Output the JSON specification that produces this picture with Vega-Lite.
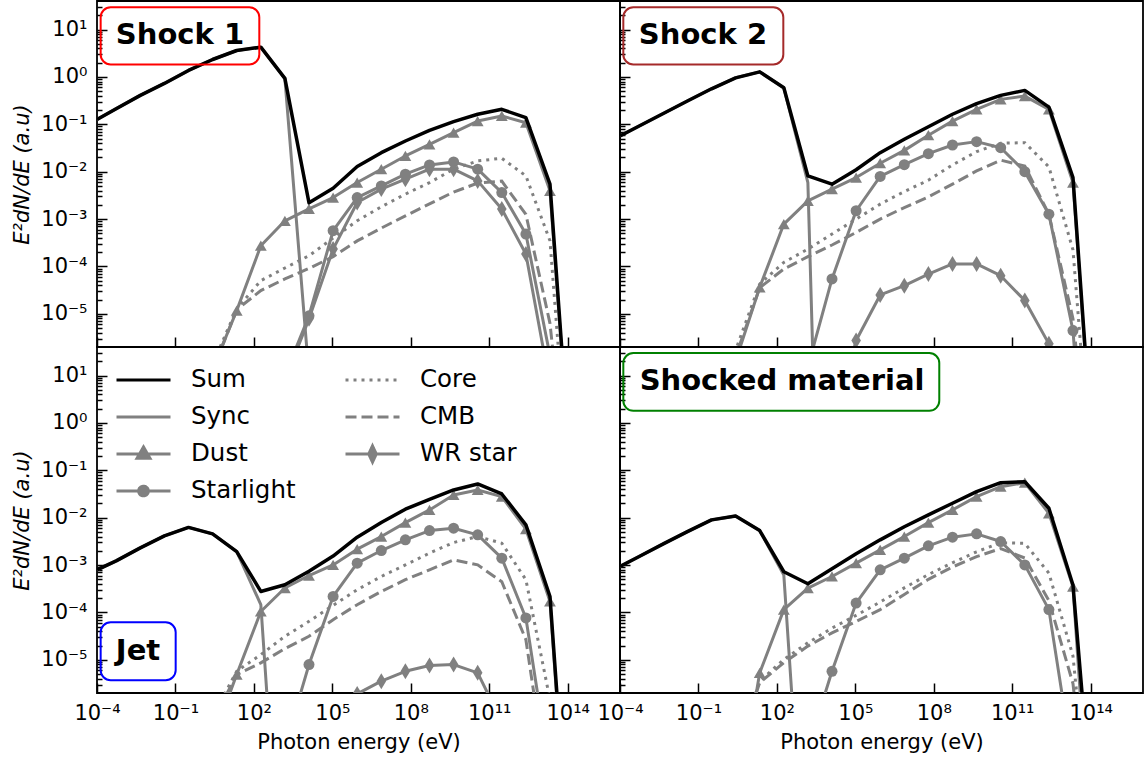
{
  "$schema": "https://vega.github.io/schema/vega-lite/v6.json",
  "padding": {"left": 10, "top": 0, "right": 2, "bottom": 2},
  "background": "white",
  "datasets": {
    "sed": [
      {"p":"S1","e":1e-4,"Sum":0.127,"Sync":0.127},
      {"p":"S1","e":5.42e-4,"Sum":0.214,"Sync":0.214},
      {"p":"S1","e":4.53e-3,"Sum":0.408,"Sync":0.408},
      {"p":"S1","e":3.78e-2,"Sum":0.729,"Sync":0.729},
      {"p":"S1","e":0.316,"Sum":1.37,"Sync":1.37,"Dust":1e-9,"Core":1e-9,"CMB":1e-9},
      {"p":"S1","e":2.63,"Sum":2.33,"Sync":2.33,"Dust":6.76e-7,"Core":8.71e-7,"CMB":6.31e-7},
      {"p":"S1","e":22,"Sum":3.61,"Sync":3.61,"Dust":1.17e-5,"Core":1.27e-5,"CMB":1.23e-5},
      {"p":"S1","e":184,"Sum":4.24,"Sync":4.24,"Dust":2.74e-4,"Starlight":1e-10,"Core":5.02e-5,"CMB":3.10e-5},
      {"p":"S1","e":1530,"Sum":0.929,"Sync":0.923,"Dust":9.2e-4,"Starlight":5.0e-7,"WR":3.98e-7,"Core":9.29e-5,"CMB":5.46e-5},
      {"p":"S1","e":1.28e4,"Sum":2.2e-3,"Sync":5.0e-7,"Dust":1.65e-3,"Starlight":9.12e-6,"WR":7.85e-6,"Core":1.69e-4,"CMB":9.12e-5},
      {"p":"S1","e":1.07e5,"Sum":4.47e-3,"Sync":1e-15,"Dust":2.85e-3,"Starlight":5.68e-4,"WR":2.33e-4,"Core":3.98e-4,"CMB":1.61e-4},
      {"p":"S1","e":8.91e5,"Sum":1.29e-2,"Dust":5.9e-3,"Starlight":2.85e-3,"WR":2.24e-3,"Core":9.2e-4,"CMB":3.47e-4},
      {"p":"S1","e":7.45e6,"Sum":2.52e-2,"Dust":1.13e-2,"Starlight":5.02e-3,"WR":4.29e-3,"Core":1.82e-3,"CMB":6.46e-4},
      {"p":"S1","e":6.21e7,"Sum":4.45e-2,"Dust":2.15e-2,"Starlight":8.87e-3,"WR":6.95e-3,"Core":3.36e-3,"CMB":1.17e-3},
      {"p":"S1","e":5.19e8,"Sum":7.48e-2,"Dust":3.79e-2,"Starlight":1.39e-2,"WR":1.13e-2,"Core":5.9e-3,"CMB":2.09e-3},
      {"p":"S1","e":4.33e9,"Sum":0.114,"Dust":6.65e-2,"Starlight":1.61e-2,"WR":1.13e-2,"Core":1.13e-2,"CMB":3.72e-3},
      {"p":"S1","e":3.61e10,"Sum":0.163,"Dust":0.117,"Starlight":1.13e-2,"WR":6.4e-3,"Core":1.69e-2,"CMB":5.75e-3},
      {"p":"S1","e":3.02e11,"Sum":0.207,"Dust":0.150,"Starlight":3.63e-3,"WR":1.63e-3,"Core":1.92e-2,"CMB":6.31e-3},
      {"p":"S1","e":2.52e12,"Sum":0.138,"Dust":0.108,"Starlight":4.83e-4,"WR":1.83e-4,"Core":8.17e-3,"CMB":1.26e-3},
      {"p":"S1","e":2.10e13,"Sum":5.46e-3,"Dust":3.94e-3,"Starlight":1.32e-6,"WR":3.16e-7,"Core":3.49e-4,"CMB":6.31e-6},
      {"p":"S1","e":1.76e14,"Sum":4.5e-10,"Dust":4e-10,"Starlight":1e-12,"WR":1e-12,"Core":1e-10,"CMB":1e-10},

      {"p":"S2","e":1e-4,"Sum":5.68e-2,"Sync":5.68e-2},
      {"p":"S2","e":5.42e-4,"Sum":9.2e-2,"Sync":9.2e-2},
      {"p":"S2","e":4.53e-3,"Sum":0.169,"Sync":0.169},
      {"p":"S2","e":3.78e-2,"Sum":0.310,"Sync":0.310},
      {"p":"S2","e":0.316,"Sum":0.562,"Sync":0.562,"Dust":1e-9,"Core":1e-9,"CMB":1e-9},
      {"p":"S2","e":2.63,"Sum":0.957,"Sync":0.957,"Dust":1e-6,"Core":1.70e-6,"CMB":1.26e-6},
      {"p":"S2","e":22,"Sum":1.28,"Sync":1.28,"Dust":3.63e-5,"Core":4.27e-5,"CMB":3.55e-5},
      {"p":"S2","e":184,"Sum":0.590,"Sync":0.590,"Dust":7.85e-4,"Starlight":1e-10,"Core":1.22e-4,"CMB":8.85e-5},
      {"p":"S2","e":1530,"Sum":8.13e-3,"Sync":5.89e-3,"Dust":2.43e-3,"Starlight":7.59e-7,"Core":2.33e-4,"CMB":1.61e-4},
      {"p":"S2","e":1.28e4,"Sum":5.46e-3,"Sync":1e-20,"Dust":4.29e-3,"Starlight":5.46e-5,"WR":3.16e-8,"Core":4.83e-4,"CMB":2.84e-4},
      {"p":"S2","e":1.07e5,"Sum":1.10e-2,"Dust":7.52e-3,"Starlight":1.50e-3,"WR":2.75e-6,"Core":1.0e-3,"CMB":5.22e-4},
      {"p":"S2","e":8.91e5,"Sum":2.52e-2,"Dust":1.51e-2,"Starlight":7.94e-3,"WR":2.51e-5,"Core":2.07e-3,"CMB":1.0e-3},
      {"p":"S2","e":7.45e6,"Sum":4.83e-2,"Dust":2.82e-2,"Starlight":1.41e-2,"WR":3.94e-5,"Core":3.81e-3,"CMB":1.75e-3},
      {"p":"S2","e":6.21e7,"Sum":8.91e-2,"Dust":5.89e-2,"Starlight":2.40e-2,"WR":6.92e-5,"Core":6.62e-3,"CMB":2.94e-3},
      {"p":"S2","e":5.19e8,"Sum":0.163,"Dust":0.117,"Starlight":3.66e-2,"WR":1.13e-4,"Core":1.39e-2,"CMB":5.46e-3},
      {"p":"S2","e":4.33e9,"Sum":0.272,"Dust":0.207,"Starlight":4.31e-2,"WR":1.13e-4,"Core":2.65e-2,"CMB":1.04e-2},
      {"p":"S2","e":3.61e10,"Sum":0.408,"Dust":0.336,"Starlight":3.21e-2,"WR":6.4e-5,"Core":3.98e-2,"CMB":1.75e-2},
      {"p":"S2","e":3.02e11,"Sum":0.520,"Dust":0.394,"Starlight":1.0e-2,"WR":1.91e-5,"Core":4.10e-2,"CMB":1.32e-2},
      {"p":"S2","e":2.52e12,"Sum":0.231,"Dust":0.207,"Starlight":1.27e-3,"WR":2.33e-6,"Core":1.26e-2,"CMB":1.26e-3},
      {"p":"S2","e":2.10e13,"Sum":7.52e-3,"Dust":5.9e-3,"Starlight":4.45e-6,"WR":1e-8,"Core":2.24e-4,"CMB":7.94e-6},
      {"p":"S2","e":1.76e14,"Sum":5e-10,"Dust":4e-10,"Starlight":1e-12,"Core":1e-10,"CMB":1e-10},

      {"p":"Jet","e":1e-4,"Sum":7.96e-4,"Sync":7.96e-4},
      {"p":"Jet","e":5.42e-4,"Sum":1.23e-3,"Sync":1.23e-3},
      {"p":"Jet","e":4.53e-3,"Sum":2.31e-3,"Sync":2.31e-3},
      {"p":"Jet","e":3.78e-2,"Sum":4.14e-3,"Sync":4.14e-3},
      {"p":"Jet","e":0.316,"Sum":6.25e-3,"Sync":6.25e-3,"Dust":1e-10,"Core":1e-9,"CMB":1e-9},
      {"p":"Jet","e":2.63,"Sum":4.56e-3,"Sync":4.56e-3,"Dust":2.04e-7,"Core":6.31e-7,"CMB":5.01e-7},
      {"p":"Jet","e":22,"Sum":1.93e-3,"Sync":1.93e-3,"Dust":4.9e-6,"Core":5.75e-6,"CMB":4.9e-6},
      {"p":"Jet","e":184,"Sum":2.78e-4,"Sync":1.46e-4,"Dust":1.05e-4,"Starlight":1e-11,"Core":1.29e-5,"CMB":8.65e-6},
      {"p":"Jet","e":1530,"Sum":3.85e-4,"Sync":5e-12,"Dust":3.28e-4,"Starlight":1.48e-7,"Core":3.14e-5,"CMB":1.73e-5},
      {"p":"Jet","e":1.28e4,"Sum":7.41e-4,"Dust":6.03e-4,"Starlight":7.96e-6,"WR":1e-8,"Core":6.5e-5,"CMB":3.14e-5},
      {"p":"Jet","e":1.07e5,"Sum":1.55e-3,"Dust":1.01e-3,"Starlight":2.18e-4,"WR":6.31e-7,"Core":1.41e-4,"CMB":7.05e-5},
      {"p":"Jet","e":8.91e5,"Sum":3.89e-3,"Dust":2.17e-3,"Starlight":1.10e-3,"WR":1.91e-6,"Core":3.02e-4,"CMB":1.46e-4},
      {"p":"Jet","e":7.45e6,"Sum":7.89e-3,"Dust":4.0e-3,"Starlight":2.03e-3,"WR":3.55e-6,"Core":5.75e-4,"CMB":2.78e-4},
      {"p":"Jet","e":6.21e7,"Sum":1.51e-2,"Dust":7.89e-3,"Starlight":3.41e-3,"WR":5.75e-6,"Core":1.01e-3,"CMB":4.91e-4},
      {"p":"Jet","e":5.19e8,"Sum":2.45e-2,"Dust":1.46e-2,"Starlight":5.35e-3,"WR":7.59e-6,"Core":1.79e-3,"CMB":7.96e-4},
      {"p":"Jet","e":4.33e9,"Sum":3.85e-2,"Dust":3.02e-2,"Starlight":6.01e-3,"WR":7.94e-6,"Core":2.99e-3,"CMB":1.29e-3},
      {"p":"Jet","e":3.61e10,"Sum":5.15e-2,"Dust":3.85e-2,"Starlight":4.35e-3,"WR":5.32e-6,"Core":4.0e-3,"CMB":1.01e-3},
      {"p":"Jet","e":3.02e11,"Sum":3.17e-2,"Dust":2.78e-2,"Starlight":1.40e-3,"WR":4.9e-7,"Core":2.9e-3,"CMB":4.45e-4},
      {"p":"Jet","e":2.52e12,"Sum":7.05e-3,"Dust":5.73e-3,"Starlight":7.66e-5,"WR":1e-8,"Core":4.91e-4,"CMB":2.67e-5},
      {"p":"Jet","e":2.10e13,"Sum":2.18e-4,"Dust":1.71e-4,"Starlight":3.98e-8,"Core":1.45e-6,"CMB":1e-8},
      {"p":"Jet","e":1.76e14,"Sum":1.6e-11,"Dust":1e-11,"Starlight":1e-12,"Core":1e-10,"CMB":1e-12},

      {"p":"SM","e":1e-4,"Sum":9.33e-4,"Sync":9.33e-4},
      {"p":"SM","e":5.42e-4,"Sum":1.52e-3,"Sync":1.52e-3},
      {"p":"SM","e":4.53e-3,"Sum":2.81e-3,"Sync":2.81e-3},
      {"p":"SM","e":3.78e-2,"Sum":5.09e-3,"Sync":5.09e-3},
      {"p":"SM","e":0.316,"Sum":8.99e-3,"Sync":8.99e-3},
      {"p":"SM","e":2.63,"Sum":1.09e-2,"Sync":1.09e-2,"Dust":5e-9,"Core":1e-7,"CMB":1e-7},
      {"p":"SM","e":22,"Sum":5.35e-3,"Sync":5.35e-3,"Dust":5.32e-6,"Core":3.55e-6,"CMB":3.31e-6},
      {"p":"SM","e":184,"Sum":7.24e-4,"Sync":6.17e-4,"Dust":1.15e-4,"Starlight":1e-11,"Core":1.02e-5,"CMB":8.71e-6},
      {"p":"SM","e":1530,"Sum":4.04e-4,"Sync":1.6e-11,"Dust":3.28e-4,"Starlight":1.35e-7,"Core":2.29e-5,"CMB":1.95e-5},
      {"p":"SM","e":1.28e4,"Sum":8.36e-4,"Dust":5.75e-4,"Starlight":5.75e-6,"Core":4.68e-5,"CMB":3.72e-5},
      {"p":"SM","e":1.07e5,"Sum":1.73e-3,"Dust":1.10e-3,"Starlight":1.58e-4,"Core":8.71e-5,"CMB":6.46e-5},
      {"p":"SM","e":8.91e5,"Sum":3.41e-3,"Dust":2.10e-3,"Starlight":7.96e-4,"Core":1.66e-4,"CMB":1.15e-4},
      {"p":"SM","e":7.45e6,"Sum":6.46e-3,"Dust":4.0e-3,"Starlight":1.40e-3,"Core":3.31e-4,"CMB":2.40e-4},
      {"p":"SM","e":6.21e7,"Sum":1.15e-2,"Dust":7.89e-3,"Starlight":2.55e-3,"Core":6.31e-4,"CMB":5.01e-4},
      {"p":"SM","e":5.19e8,"Sum":2.02e-2,"Dust":1.46e-2,"Starlight":3.88e-3,"Core":1.12e-3,"CMB":9.12e-4},
      {"p":"SM","e":4.33e9,"Sum":3.54e-2,"Dust":2.78e-2,"Starlight":4.56e-3,"Core":1.91e-3,"CMB":1.51e-3},
      {"p":"SM","e":3.61e10,"Sum":5.48e-2,"Dust":4.52e-2,"Starlight":3.14e-3,"Core":2.95e-3,"CMB":2.24e-3},
      {"p":"SM","e":3.02e11,"Sum":5.75e-2,"Dust":5.48e-2,"Starlight":1.01e-3,"Core":2.88e-3,"CMB":1.41e-3},
      {"p":"SM","e":2.52e12,"Sum":1.58e-2,"Dust":1.24e-2,"Starlight":1.15e-4,"Core":6.76e-4,"CMB":1.78e-4},
      {"p":"SM","e":2.10e13,"Sum":3.8e-4,"Dust":3.5e-4,"Starlight":6.31e-8,"Core":1.2e-5,"CMB":3.16e-6},
      {"p":"SM","e":1.76e14,"Sum":3.2e-10,"Dust":1e-11,"Starlight":1e-12,"Core":1e-10,"CMB":1e-10}
    ]
  },
  "columns": 2,
  "spacing": 0,
  "bounds": "flush",
  "resolve": {"scale": {"color": "independent", "stroke": "independent", "shape": "independent", "strokeDash": "independent"}},
  "concat": [
    {
      "width": 523, "height": 346,
      "layer": [
        {
          "data": {"name": "sed"},
          "transform": [
            {"filter": "datum.p == 'S1'"},
            {"fold": ["Sum", "Sync", "Dust", "Starlight", "WR", "Core", "CMB"], "as": ["s", "v"]},
            {"filter": "isValid(datum.v) && datum.v > 0"}
          ],
          "encoding": {
            "x": {"field": "e", "type": "quantitative", "scale": {"type": "log", "domain": [1e-4, 1e16], "nice": false},
                  "axis": {"values": [1e-4, 0.1, 100, 1e5, 1e8, 1e11, 1e14], "tickSize": -10, "labels": false, "title": null}},
            "y": {"field": "v", "type": "quantitative", "scale": {"type": "log", "domain": [2e-6, 40], "nice": false},
                  "axis": {"values": [3e-6,4e-6,5e-6,6e-6,7e-6,8e-6,9e-6,1e-5,2e-5,3e-5,4e-5,5e-5,6e-5,7e-5,8e-5,9e-5,1e-4,2e-4,3e-4,4e-4,5e-4,6e-4,7e-4,8e-4,9e-4,1e-3,2e-3,3e-3,4e-3,5e-3,6e-3,7e-3,8e-3,9e-3,0.01,0.02,0.03,0.04,0.05,0.06,0.07,0.08,0.09,0.1,0.2,0.3,0.4,0.5,0.6,0.7,0.8,0.9,1,2,3,4,5,6,7,8,9,10,20,30],
                           "tickSize": {"condition": {"test": "abs(log(datum.value)/LN10 - round(log(datum.value)/LN10)) < 0.01", "value": -10}, "value": -5},
                           "labelFontSize": {"condition": {"test": "abs(log(datum.value)/LN10 - round(log(datum.value)/LN10)) < 0.01", "value": 21}, "value": 0},
                           "labelExpr": "abs(log(datum.value)/LN10 - round(log(datum.value)/LN10)) < 0.01 ? '10' + (round(log(datum.value)/LN10) < 0 ? '⁻' : '') + ['⁰','¹','²','³','⁴','⁵','⁶','⁷','⁸','⁹'][abs(round(log(datum.value)/LN10)) % 10] : ''",
                           "labelPadding": 20, "title": "E²dN/dE (a.u)", "titleFontStyle": "italic", "titlePadding": 8}}
          },
          "layer": [
            {"transform": [{"filter": "indexof(['Sync','Dust','Starlight','WR'], datum.s) >= 0"}], "mark": {"type": "line", "clip": true, "color": "#808080", "strokeWidth": 3, "strokeJoin": "round"}, "encoding": {"detail": {"field": "s"}}},
            {"transform": [{"filter": "datum.s == 'Core'"}], "mark": {"type": "line", "clip": true, "color": "#808080", "strokeWidth": 3, "strokeDash": [3, 5]}},
            {"transform": [{"filter": "datum.s == 'CMB'"}], "mark": {"type": "line", "clip": true, "color": "#808080", "strokeWidth": 3, "strokeDash": [11, 5]}},
            {"transform": [{"filter": "datum.s == 'Dust'"}], "mark": {"type": "point", "clip": true, "shape": "triangle-up", "filled": true, "size": 140, "color": "#808080", "opacity": 1}},
            {"transform": [{"filter": "datum.s == 'Starlight'"}], "mark": {"type": "point", "clip": true, "shape": "circle", "filled": true, "size": 121, "color": "#808080", "opacity": 1}},
            {"transform": [{"filter": "datum.s == 'WR'"}], "mark": {"type": "point", "clip": true, "shape": "M0,-1L0.6,0L0,1L-0.6,0Z", "filled": true, "size": 256, "color": "#808080", "opacity": 1}},
            {"transform": [{"filter": "datum.s == 'Sum'"}], "mark": {"type": "line", "clip": true, "color": "#000000", "strokeWidth": 3.5, "strokeJoin": "round"}}
          ]
        },
        {"data": {"values": [{}]}, "mark": {"type": "rect", "fill": "white", "fillOpacity": 0, "stroke": "#ff0000", "strokeWidth": 2, "cornerRadius": 10},
         "encoding": {"x": {"datum": 1.38e-4, "type": "quantitative"}, "x2": {"datum": 161}, "y": {"datum": 29.4, "type": "quantitative"}, "y2": {"datum": 1.83}}},
        {"data": {"values": [{}]}, "mark": {"type": "text", "text": "Shock 1", "font": "DejaVu Sans", "fontWeight": "bold", "fontSize": 29, "align": "center", "baseline": "middle", "color": "black"},
         "encoding": {"x": {"datum": 0.149, "type": "quantitative"}, "y": {"datum": 7.59, "type": "quantitative"}}}
      ]
    },
    {
      "width": 523, "height": 346,
      "layer": [
        {
          "data": {"name": "sed"},
          "transform": [
            {"filter": "datum.p == 'S2'"},
            {"fold": ["Sum", "Sync", "Dust", "Starlight", "WR", "Core", "CMB"], "as": ["s", "v"]},
            {"filter": "isValid(datum.v) && datum.v > 0"}
          ],
          "encoding": {
            "x": {"field": "e", "type": "quantitative", "scale": {"type": "log", "domain": [1e-4, 1e16], "nice": false},
                  "axis": {"values": [1e-4, 0.1, 100, 1e5, 1e8, 1e11, 1e14], "tickSize": -10, "labels": false, "title": null}},
            "y": {"field": "v", "type": "quantitative", "scale": {"type": "log", "domain": [2e-6, 40], "nice": false},
                  "axis": {"values": [3e-6,4e-6,5e-6,6e-6,7e-6,8e-6,9e-6,1e-5,2e-5,3e-5,4e-5,5e-5,6e-5,7e-5,8e-5,9e-5,1e-4,2e-4,3e-4,4e-4,5e-4,6e-4,7e-4,8e-4,9e-4,1e-3,2e-3,3e-3,4e-3,5e-3,6e-3,7e-3,8e-3,9e-3,0.01,0.02,0.03,0.04,0.05,0.06,0.07,0.08,0.09,0.1,0.2,0.3,0.4,0.5,0.6,0.7,0.8,0.9,1,2,3,4,5,6,7,8,9,10,20,30],
                           "tickSize": {"condition": {"test": "abs(log(datum.value)/LN10 - round(log(datum.value)/LN10)) < 0.01", "value": -10}, "value": -5},
                           "labels": false, "title": null}}
          },
          "layer": [
            {"transform": [{"filter": "indexof(['Sync','Dust','Starlight','WR'], datum.s) >= 0"}], "mark": {"type": "line", "clip": true, "color": "#808080", "strokeWidth": 3, "strokeJoin": "round"}, "encoding": {"detail": {"field": "s"}}},
            {"transform": [{"filter": "datum.s == 'Core'"}], "mark": {"type": "line", "clip": true, "color": "#808080", "strokeWidth": 3, "strokeDash": [3, 5]}},
            {"transform": [{"filter": "datum.s == 'CMB'"}], "mark": {"type": "line", "clip": true, "color": "#808080", "strokeWidth": 3, "strokeDash": [11, 5]}},
            {"transform": [{"filter": "datum.s == 'Dust'"}], "mark": {"type": "point", "clip": true, "shape": "triangle-up", "filled": true, "size": 140, "color": "#808080", "opacity": 1}},
            {"transform": [{"filter": "datum.s == 'Starlight'"}], "mark": {"type": "point", "clip": true, "shape": "circle", "filled": true, "size": 121, "color": "#808080", "opacity": 1}},
            {"transform": [{"filter": "datum.s == 'WR'"}], "mark": {"type": "point", "clip": true, "shape": "M0,-1L0.6,0L0,1L-0.6,0Z", "filled": true, "size": 256, "color": "#808080", "opacity": 1}},
            {"transform": [{"filter": "datum.s == 'Sum'"}], "mark": {"type": "line", "clip": true, "color": "#000000", "strokeWidth": 3.5, "strokeJoin": "round"}}
          ]
        },
        {"data": {"values": [{}]}, "mark": {"type": "rect", "fill": "white", "fillOpacity": 0, "stroke": "#a52a2a", "strokeWidth": 2, "cornerRadius": 10},
         "encoding": {"x": {"datum": 1.34e-4, "type": "quantitative"}, "x2": {"datum": 176}, "y": {"datum": 29.4, "type": "quantitative"}, "y2": {"datum": 1.83}}},
        {"data": {"values": [{}]}, "mark": {"type": "text", "text": "Shock 2", "font": "DejaVu Sans", "fontWeight": "bold", "fontSize": 29, "align": "center", "baseline": "middle", "color": "black"},
         "encoding": {"x": {"datum": 0.149, "type": "quantitative"}, "y": {"datum": 7.59, "type": "quantitative"}}}
      ]
    },
    {
      "width": 523, "height": 346,
      "layer": [
        {
          "data": {"name": "sed"},
          "transform": [
            {"filter": "datum.p == 'Jet'"},
            {"fold": ["Sum", "Sync", "Dust", "Starlight", "WR", "Core", "CMB"], "as": ["s", "v"]},
            {"filter": "isValid(datum.v) && datum.v > 0"}
          ],
          "encoding": {
            "x": {"field": "e", "type": "quantitative", "scale": {"type": "log", "domain": [1e-4, 1e16], "nice": false},
                  "axis": {"values": [1e-4, 0.1, 100, 1e5, 1e8, 1e11, 1e14], "tickSize": -10, "labelPadding": 19,
                           "labelExpr": "'10' + (round(log(datum.value)/LN10) < 0 ? '⁻' : '') + (abs(round(log(datum.value)/LN10)) >= 10 ? '¹' : '') + ['⁰','¹','²','³','⁴','⁵','⁶','⁷','⁸','⁹'][abs(round(log(datum.value)/LN10)) % 10]",
                           "title": "Photon energy (eV)", "titlePadding": 8}},
            "y": {"field": "v", "type": "quantitative", "scale": {"type": "log", "domain": [2e-6, 40], "nice": false},
                  "axis": {"values": [3e-6,4e-6,5e-6,6e-6,7e-6,8e-6,9e-6,1e-5,2e-5,3e-5,4e-5,5e-5,6e-5,7e-5,8e-5,9e-5,1e-4,2e-4,3e-4,4e-4,5e-4,6e-4,7e-4,8e-4,9e-4,1e-3,2e-3,3e-3,4e-3,5e-3,6e-3,7e-3,8e-3,9e-3,0.01,0.02,0.03,0.04,0.05,0.06,0.07,0.08,0.09,0.1,0.2,0.3,0.4,0.5,0.6,0.7,0.8,0.9,1,2,3,4,5,6,7,8,9,10,20,30],
                           "tickSize": {"condition": {"test": "abs(log(datum.value)/LN10 - round(log(datum.value)/LN10)) < 0.01", "value": -10}, "value": -5},
                           "labelFontSize": {"condition": {"test": "abs(log(datum.value)/LN10 - round(log(datum.value)/LN10)) < 0.01", "value": 21}, "value": 0},
                           "labelExpr": "abs(log(datum.value)/LN10 - round(log(datum.value)/LN10)) < 0.01 ? '10' + (round(log(datum.value)/LN10) < 0 ? '⁻' : '') + ['⁰','¹','²','³','⁴','⁵','⁶','⁷','⁸','⁹'][abs(round(log(datum.value)/LN10)) % 10] : ''",
                           "labelPadding": 20, "title": "E²dN/dE (a.u)", "titleFontStyle": "italic", "titlePadding": 8}}
          },
          "layer": [
            {"transform": [{"filter": "indexof(['Sync','Dust','Starlight','WR'], datum.s) >= 0"}], "mark": {"type": "line", "clip": true, "color": "#808080", "strokeWidth": 3, "strokeJoin": "round"}, "encoding": {"detail": {"field": "s"}}},
            {"transform": [{"filter": "datum.s == 'Core'"}], "mark": {"type": "line", "clip": true, "color": "#808080", "strokeWidth": 3, "strokeDash": [3, 5]}},
            {"transform": [{"filter": "datum.s == 'CMB'"}], "mark": {"type": "line", "clip": true, "color": "#808080", "strokeWidth": 3, "strokeDash": [11, 5]}},
            {"transform": [{"filter": "datum.s == 'Dust'"}], "mark": {"type": "point", "clip": true, "shape": "triangle-up", "filled": true, "size": 140, "color": "#808080", "opacity": 1}},
            {"transform": [{"filter": "datum.s == 'Starlight'"}], "mark": {"type": "point", "clip": true, "shape": "circle", "filled": true, "size": 121, "color": "#808080", "opacity": 1}},
            {"transform": [{"filter": "datum.s == 'WR'"}], "mark": {"type": "point", "clip": true, "shape": "M0,-1L0.6,0L0,1L-0.6,0Z", "filled": true, "size": 256, "color": "#808080", "opacity": 1}},
            {"transform": [{"filter": "datum.s == 'Sum'"}], "mark": {"type": "line", "clip": true, "color": "#000000", "strokeWidth": 3.5, "strokeJoin": "round"}}
          ]
        },
        {"data": {"values": [{}]}, "mark": {"type": "rect", "fill": "white", "fillOpacity": 0, "stroke": "#0000ff", "strokeWidth": 2, "cornerRadius": 10},
         "encoding": {"x": {"datum": 1.38e-4, "type": "quantitative"}, "x2": {"datum": 0.102}, "y": {"datum": 6.19e-5, "type": "quantitative"}, "y2": {"datum": 3.72e-6}}},
        {"data": {"values": [{}]}, "mark": {"type": "text", "text": "Jet", "font": "DejaVu Sans", "fontWeight": "bold", "fontSize": 29, "align": "center", "baseline": "middle", "color": "black"},
         "encoding": {"x": {"datum": 3.70e-3, "type": "quantitative"}, "y": {"datum": 1.53e-5, "type": "quantitative"}}},
        {"data": {"values": [{"s": "Sum"}, {"s": "Sync"}, {"s": "Dust"}, {"s": "Starlight"}, {"s": "Core"}, {"s": "CMB"}, {"s": "WR star"}]},
         "mark": {"type": "point", "filled": true, "opacity": 0},
         "encoding": {
           "x": {"datum": 1, "type": "quantitative"},
           "y": {"datum": 1, "type": "quantitative"},
           "shape": {"field": "s", "type": "nominal",
                     "scale": {"domain": ["Sum", "Sync", "Dust", "Starlight", "Core", "CMB", "WR star"],
                               "range": ["M-1,0L1,0", "M-1,0L1,0",
                                         "M-1,0L1,0M0,-0.26L0.24,0.16L-0.24,0.16Z",
                                         "M-1,0L1,0M0.18,0A0.18,0.18,0,1,1,-0.18,0A0.18,0.18,0,1,1,0.18,0Z",
                                         "M-1,0L1,0", "M-1,0L1,0",
                                         "M-1,0L1,0M0,-0.3L0.14,0L0,0.3L-0.14,0Z"]},
                     "legend": {"title": null, "orient": "top-left", "offset": 18, "columns": 2, "clipHeight": 30, "symbolSize": 2916, "symbolStrokeWidth": 3, "symbolOpacity": 1, "labelFontSize": 24.5, "labelOffset": 19, "rowPadding": 7, "columnPadding": 48, "padding": 0}},
           "color": {"field": "s", "type": "nominal",
                     "scale": {"domain": ["Sum", "Sync", "Dust", "Starlight", "Core", "CMB", "WR star"],
                               "range": ["#000000", "#808080", "#808080", "#808080", "#808080", "#808080", "#808080"]},
                     "legend": {"title": null, "orient": "top-left", "offset": 18, "columns": 2, "clipHeight": 30, "symbolSize": 2916, "symbolStrokeWidth": 3, "symbolOpacity": 1, "labelFontSize": 24.5, "labelOffset": 19, "rowPadding": 7, "columnPadding": 48, "padding": 0}},
           "stroke": {"field": "s", "type": "nominal",
                     "scale": {"domain": ["Sum", "Sync", "Dust", "Starlight", "Core", "CMB", "WR star"],
                               "range": ["#000000", "#808080", "#808080", "#808080", "#808080", "#808080", "#808080"]},
                     "legend": {"title": null, "orient": "top-left", "offset": 18, "columns": 2, "clipHeight": 30, "symbolSize": 2916, "symbolStrokeWidth": 3, "symbolOpacity": 1, "labelFontSize": 24.5, "labelOffset": 19, "rowPadding": 7, "columnPadding": 48, "padding": 0}},
           "strokeDash": {"field": "s", "type": "nominal",
                     "scale": {"domain": ["Sum", "Sync", "Dust", "Starlight", "Core", "CMB", "WR star"],
                               "range": [[1, 0], [1, 0], [1, 0], [1, 0], [3, 5], [11, 5], [1, 0]]},
                     "legend": {"title": null, "orient": "top-left", "offset": 18, "columns": 2, "clipHeight": 30, "symbolSize": 2916, "symbolStrokeWidth": 3, "symbolOpacity": 1, "labelFontSize": 24.5, "labelOffset": 19, "rowPadding": 7, "columnPadding": 48, "padding": 0}}
         }}
      ]
    },
    {
      "width": 523, "height": 346,
      "layer": [
        {
          "data": {"name": "sed"},
          "transform": [
            {"filter": "datum.p == 'SM'"},
            {"fold": ["Sum", "Sync", "Dust", "Starlight", "WR", "Core", "CMB"], "as": ["s", "v"]},
            {"filter": "isValid(datum.v) && datum.v > 0"}
          ],
          "encoding": {
            "x": {"field": "e", "type": "quantitative", "scale": {"type": "log", "domain": [1e-4, 1e16], "nice": false},
                  "axis": {"values": [1e-4, 0.1, 100, 1e5, 1e8, 1e11, 1e14], "tickSize": -10, "labelPadding": 19,
                           "labelExpr": "'10' + (round(log(datum.value)/LN10) < 0 ? '⁻' : '') + (abs(round(log(datum.value)/LN10)) >= 10 ? '¹' : '') + ['⁰','¹','²','³','⁴','⁵','⁶','⁷','⁸','⁹'][abs(round(log(datum.value)/LN10)) % 10]",
                           "title": "Photon energy (eV)", "titlePadding": 8}},
            "y": {"field": "v", "type": "quantitative", "scale": {"type": "log", "domain": [2e-6, 40], "nice": false},
                  "axis": {"values": [3e-6,4e-6,5e-6,6e-6,7e-6,8e-6,9e-6,1e-5,2e-5,3e-5,4e-5,5e-5,6e-5,7e-5,8e-5,9e-5,1e-4,2e-4,3e-4,4e-4,5e-4,6e-4,7e-4,8e-4,9e-4,1e-3,2e-3,3e-3,4e-3,5e-3,6e-3,7e-3,8e-3,9e-3,0.01,0.02,0.03,0.04,0.05,0.06,0.07,0.08,0.09,0.1,0.2,0.3,0.4,0.5,0.6,0.7,0.8,0.9,1,2,3,4,5,6,7,8,9,10,20,30],
                           "tickSize": {"condition": {"test": "abs(log(datum.value)/LN10 - round(log(datum.value)/LN10)) < 0.01", "value": -10}, "value": -5},
                           "labels": false, "title": null}}
          },
          "layer": [
            {"transform": [{"filter": "indexof(['Sync','Dust','Starlight','WR'], datum.s) >= 0"}], "mark": {"type": "line", "clip": true, "color": "#808080", "strokeWidth": 3, "strokeJoin": "round"}, "encoding": {"detail": {"field": "s"}}},
            {"transform": [{"filter": "datum.s == 'Core'"}], "mark": {"type": "line", "clip": true, "color": "#808080", "strokeWidth": 3, "strokeDash": [3, 5]}},
            {"transform": [{"filter": "datum.s == 'CMB'"}], "mark": {"type": "line", "clip": true, "color": "#808080", "strokeWidth": 3, "strokeDash": [11, 5]}},
            {"transform": [{"filter": "datum.s == 'Dust'"}], "mark": {"type": "point", "clip": true, "shape": "triangle-up", "filled": true, "size": 140, "color": "#808080", "opacity": 1}},
            {"transform": [{"filter": "datum.s == 'Starlight'"}], "mark": {"type": "point", "clip": true, "shape": "circle", "filled": true, "size": 121, "color": "#808080", "opacity": 1}},
            {"transform": [{"filter": "datum.s == 'Sum'"}], "mark": {"type": "line", "clip": true, "color": "#000000", "strokeWidth": 3.5, "strokeJoin": "round"}}
          ]
        },
        {"data": {"values": [{}]}, "mark": {"type": "rect", "fill": "white", "fillOpacity": 0, "stroke": "#008000", "strokeWidth": 2, "cornerRadius": 10},
         "encoding": {"x": {"datum": 1.34e-4, "type": "quantitative"}, "x2": {"datum": 1.62e8}, "y": {"datum": 29.9, "type": "quantitative"}, "y2": {"datum": 1.80}}},
        {"data": {"values": [{}]}, "mark": {"type": "text", "text": "Shocked material", "font": "DejaVu Sans", "fontWeight": "bold", "fontSize": 29, "align": "center", "baseline": "middle", "color": "black"},
         "encoding": {"x": {"datum": 157, "type": "quantitative"}, "y": {"datum": 7.59, "type": "quantitative"}}}
      ]
    }
  ],
  "config": {
    "font": "DejaVu Sans",
    "view": {"stroke": "#000000", "strokeWidth": 1.8},
    "axis": {"domain": false, "grid": false, "tickColor": "#000000", "tickWidth": 1.5, "labelColor": "#000000", "labelFont": "DejaVu Sans", "labelFontSize": 21, "labelFlush": false, "labelOverlap": false, "titleFont": "DejaVu Sans", "titleFontSize": 21, "titleFontWeight": "normal", "titleColor": "#000000"},
    "legend": {"labelFont": "DejaVu Sans", "labelColor": "#000000"}
  }
}
